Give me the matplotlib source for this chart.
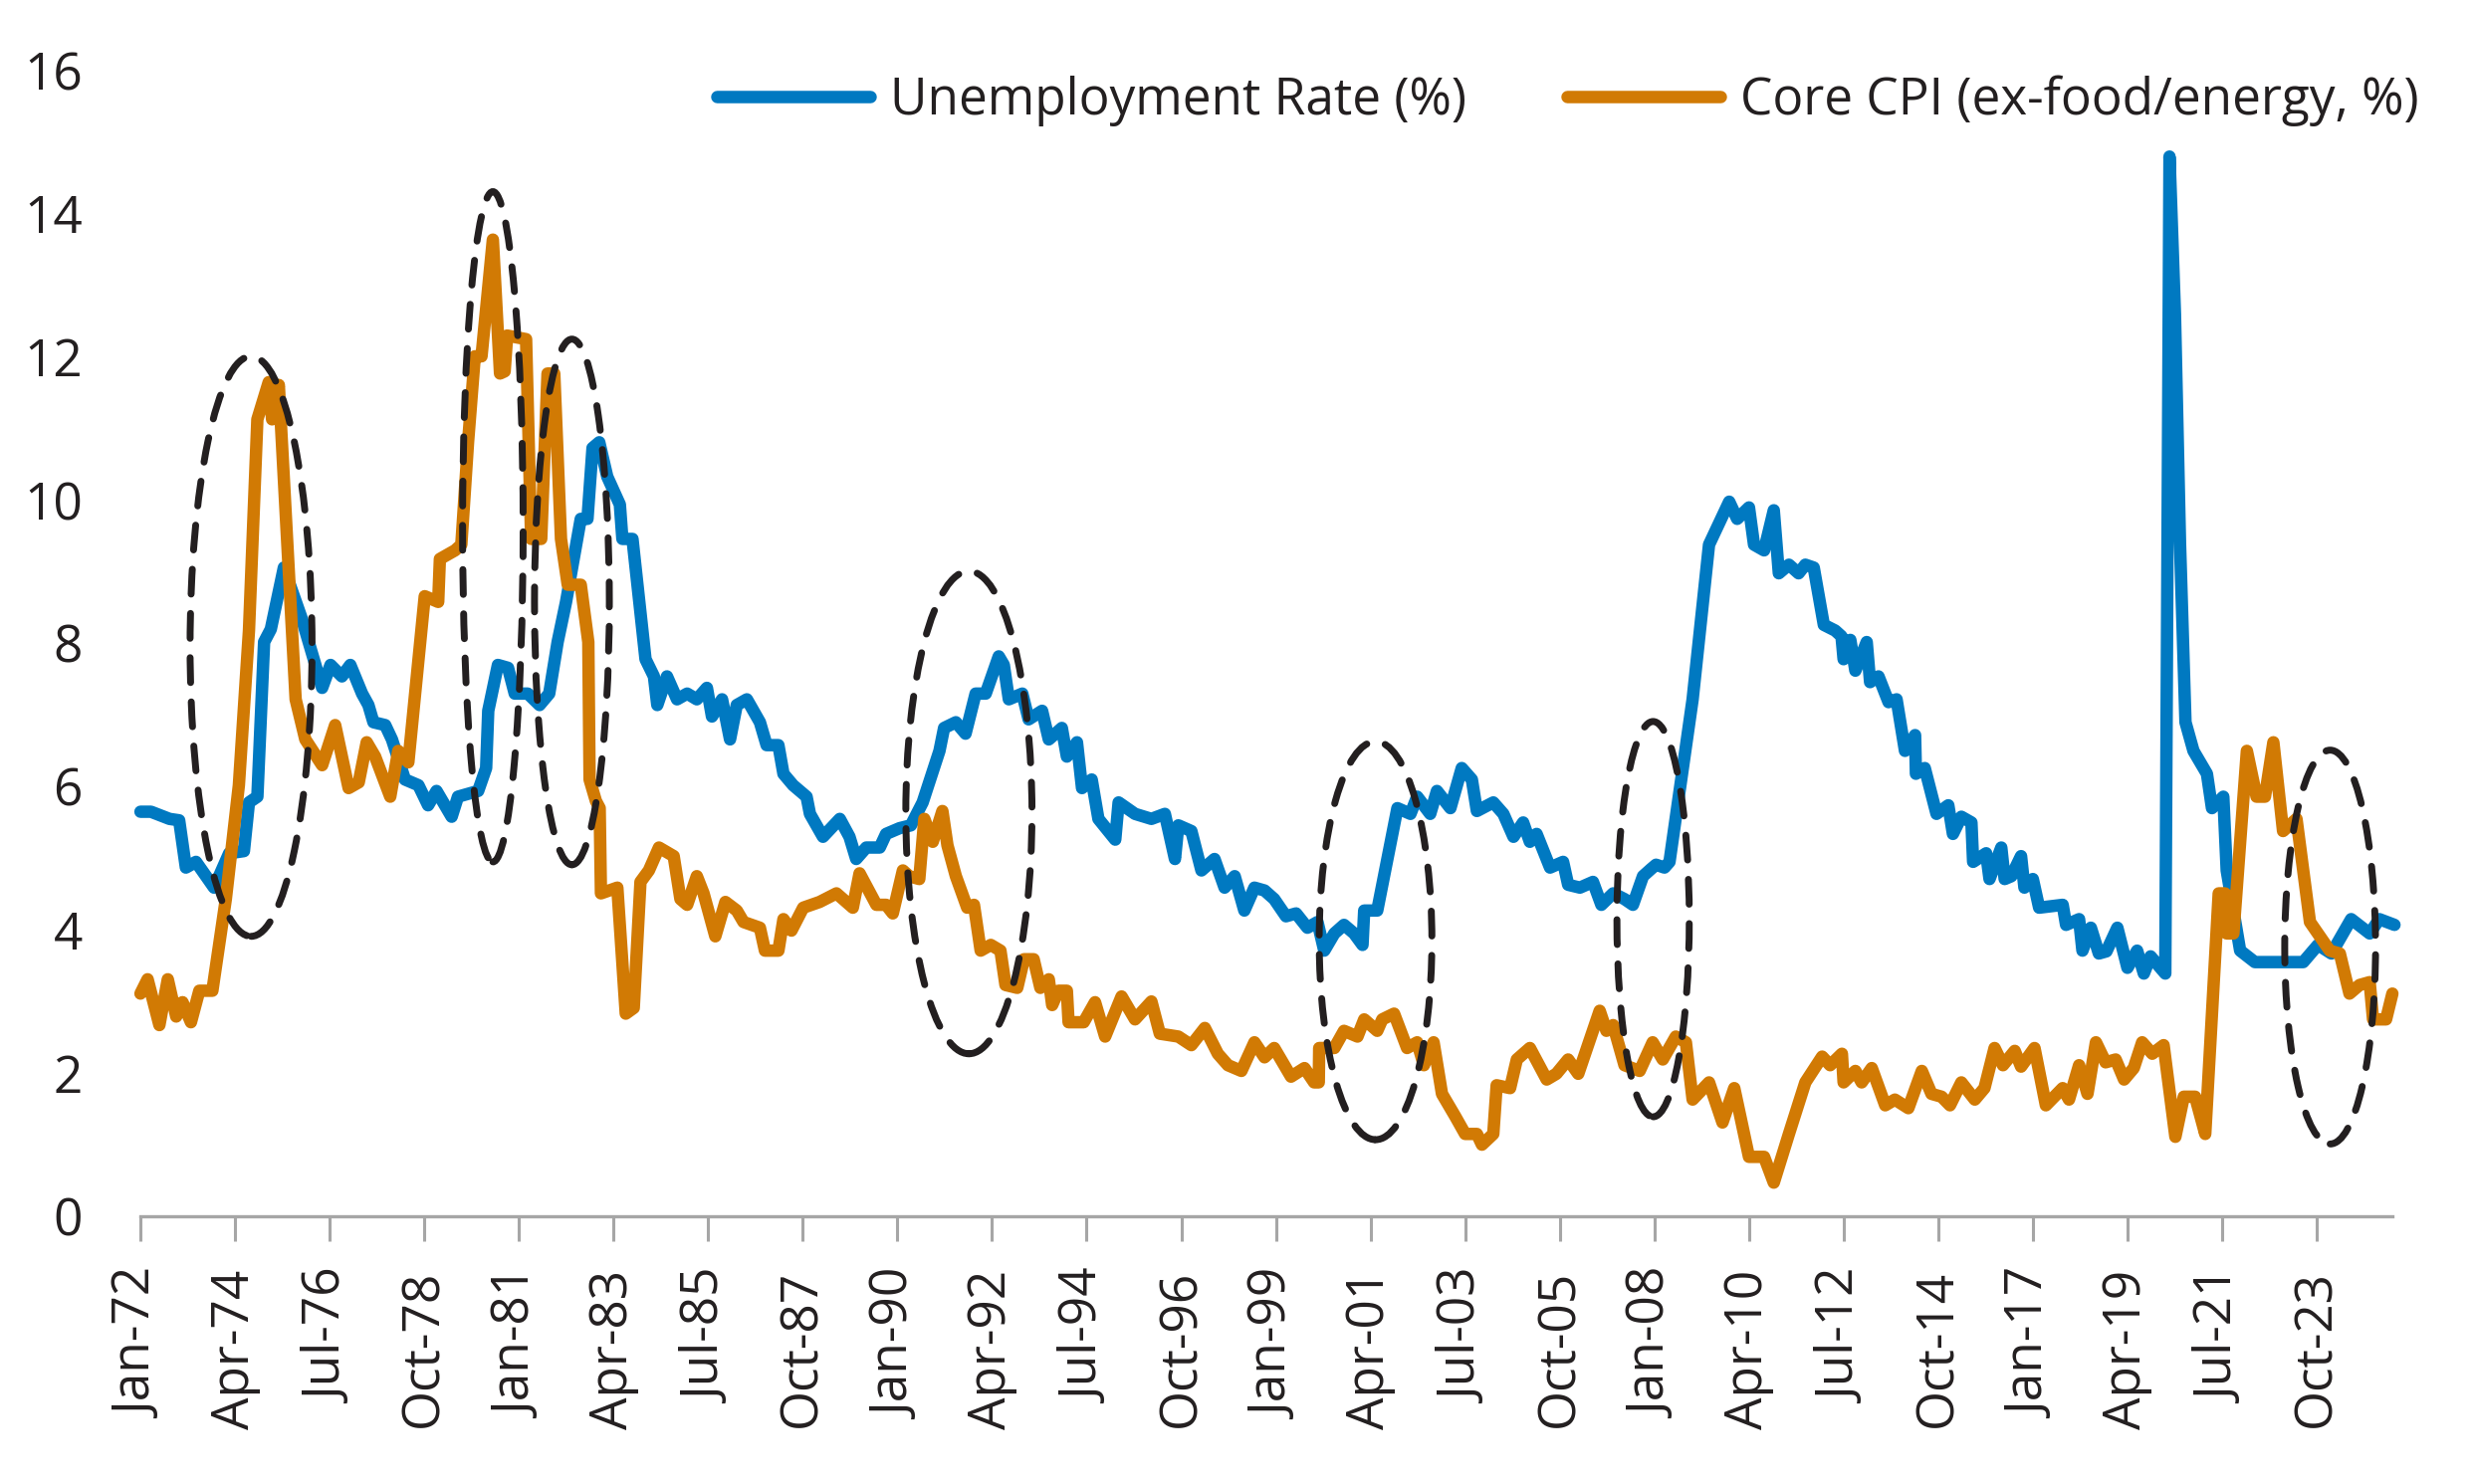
"""
Unemployment rate vs core CPI, 1972-2025, with the inflation episodes circled.
"""
import matplotlib
matplotlib.use("Agg")
import matplotlib.pyplot as plt
from matplotlib.patches import Ellipse

# --------------------------------------------------------------------------- #
# data (decimal year, %)
# --------------------------------------------------------------------------- #
unemp_t = [
    1972.00, 1972.25, 1972.69, 1972.92, 1973.08, 1973.32, 1973.75, 1974.11, 1974.46, 1974.58,
    1974.78, 1974.94, 1975.10, 1975.41, 1975.84, 1976.16, 1976.32, 1976.52, 1976.79, 1976.99,
    1977.27, 1977.42, 1977.54, 1977.82, 1977.98, 1978.29, 1978.61, 1978.84, 1979.04, 1979.40,
    1979.55, 1980.03, 1980.22, 1980.27, 1980.50, 1980.74, 1980.90, 1981.21, 1981.49, 1981.72,
    1981.92, 1982.12, 1982.47, 1982.63, 1982.75, 1982.91, 1983.10, 1983.40, 1983.46, 1983.70,
    1984.01, 1984.21, 1984.29, 1984.52, 1984.76, 1985.00, 1985.23, 1985.47, 1985.59, 1985.83,
    1986.02, 1986.18, 1986.42, 1986.73, 1986.89, 1987.17, 1987.29, 1987.52, 1987.84, 1987.92,
    1988.23, 1988.63, 1988.86, 1989.02, 1989.26, 1989.58, 1989.73, 1990.05, 1990.32, 1990.60,
    1991.00, 1991.11, 1991.39, 1991.62, 1991.86, 1992.10, 1992.41, 1992.53, 1992.65, 1992.97,
    1993.12, 1993.44, 1993.60, 1993.91, 1994.03, 1994.27, 1994.39, 1994.62, 1994.78, 1995.18,
    1995.26, 1995.65, 1996.04, 1996.36, 1996.60, 1996.68, 1996.99, 1997.23, 1997.54, 1997.78,
    1998.02, 1998.25, 1998.49, 1998.73, 1998.96, 1999.24, 1999.48, 1999.75, 1999.99, 2000.15,
    2000.39, 2000.62, 2000.86, 2001.06, 2001.10, 2001.41, 2001.89, 2002.20, 2002.36, 2002.67,
    2002.83, 2003.15, 2003.42, 2003.66, 2003.78, 2004.17, 2004.41, 2004.65, 2004.88, 2005.04,
    2005.20, 2005.52, 2005.83, 2005.95, 2006.23, 2006.54, 2006.74, 2007.02, 2007.29, 2007.49,
    2007.73, 2007.92, 2008.04, 2008.24, 2008.36, 2008.91, 2009.30, 2009.78, 2009.97, 2010.25,
    2010.37, 2010.61, 2010.84, 2010.96, 2011.20, 2011.43, 2011.59, 2011.79, 2012.03, 2012.30,
    2012.45, 2012.50, 2012.66, 2012.78, 2013.05, 2013.13, 2013.33, 2013.57, 2013.76, 2013.96,
    2014.20, 2014.22, 2014.43, 2014.71, 2014.99, 2015.10, 2015.30, 2015.54, 2015.58, 2015.89,
    2015.97, 2016.25, 2016.33, 2016.49, 2016.72, 2016.80, 2017.00, 2017.15, 2017.71, 2017.79,
    2018.10, 2018.18, 2018.38, 2018.57, 2018.75, 2019.01, 2019.25, 2019.48, 2019.64, 2019.80,
    2020.15, 2020.25, 2020.38, 2020.50, 2020.63, 2020.82, 2021.14, 2021.26, 2021.53, 2021.61,
    2021.93, 2022.28, 2023.43, 2023.78, 2024.10, 2024.57, 2025.01, 2025.24, 2025.60,
]
unemp_v = [
    5.65, 5.65, 5.55, 5.53, 4.87, 4.95, 4.59, 5.07, 5.10, 5.78,
    5.86, 8.02, 8.20, 9.06, 8.34, 7.70, 7.38, 7.70, 7.54, 7.70,
    7.30, 7.14, 6.90, 6.86, 6.66, 6.10, 6.02, 5.74, 5.94, 5.58,
    5.86, 5.94, 6.26, 7.06, 7.70, 7.66, 7.30, 7.30, 7.14, 7.30,
    8.02, 8.58, 9.74, 9.74, 10.73, 10.81, 10.33, 9.94, 9.46, 9.46,
    7.78, 7.54, 7.14, 7.54, 7.22, 7.30, 7.22, 7.38, 6.98, 7.22,
    6.66, 7.14, 7.22, 6.90, 6.58, 6.58, 6.18, 6.02, 5.86, 5.62,
    5.30, 5.55, 5.30, 4.99, 5.15, 5.15, 5.34, 5.42, 5.46, 5.78,
    6.50, 6.82, 6.90, 6.74, 7.30, 7.30, 7.82, 7.70, 7.22, 7.30,
    6.94, 7.06, 6.66, 6.82, 6.42, 6.62, 5.98, 6.10, 5.55, 5.26,
    5.78, 5.62, 5.55, 5.62, 4.99, 5.46, 5.38, 4.83, 4.99, 4.59,
    4.75, 4.27, 4.59, 4.55, 4.43, 4.19, 4.23, 4.03, 4.11, 3.71,
    3.95, 4.07, 3.95, 3.79, 4.27, 4.27, 5.70, 5.62, 5.86, 5.62,
    5.94, 5.70, 6.26, 6.10, 5.66, 5.78, 5.62, 5.30, 5.50, 5.23,
    5.34, 4.87, 4.95, 4.63, 4.59, 4.67, 4.35, 4.51, 4.43, 4.35,
    4.75, 4.85, 4.91, 4.87, 4.95, 7.22, 9.38, 9.98, 9.74, 9.90,
    9.38, 9.30, 9.86, 8.98, 9.10, 8.98, 9.10, 9.06, 8.26, 8.18,
    8.10, 7.78, 8.05, 7.62, 8.02, 7.46, 7.54, 7.18, 7.22, 6.50,
    6.72, 6.18, 6.26, 5.62, 5.74, 5.34, 5.58, 5.50, 4.95, 5.07,
    4.71, 5.15, 4.71, 4.75, 5.03, 4.59, 4.71, 4.31, 4.35, 4.07,
    4.15, 3.71, 4.03, 3.67, 3.70, 4.03, 3.47, 3.71, 3.39, 3.63,
    3.39, 14.80, 12.60, 9.40, 6.90, 6.50, 6.18, 5.70, 5.86, 4.83,
    3.71, 3.55, 3.55, 3.79, 3.67, 4.15, 3.95, 4.15, 4.07,
]

cpi_t = [
    1972.00, 1972.17, 1972.45, 1972.65, 1972.85, 1973.00, 1973.20, 1973.40, 1973.71, 1974.03,
    1974.34, 1974.58, 1974.78, 1975.05, 1975.13, 1975.29, 1975.69, 1975.92, 1976.32, 1976.63,
    1976.95, 1977.19, 1977.38, 1977.58, 1977.94, 1978.13, 1978.37, 1978.76, 1979.08, 1979.12,
    1979.48, 1979.63, 1979.79, 1979.95, 1980.11, 1980.38, 1980.55, 1980.66, 1980.72, 1981.17,
    1981.29, 1981.53, 1981.68, 1981.84, 1982.00, 1982.16, 1982.47, 1982.65, 1982.68, 1982.83,
    1982.92, 1982.95, 1983.34, 1983.54, 1983.73, 1983.89, 1984.09, 1984.33, 1984.68, 1984.84,
    1985.00, 1985.23, 1985.39, 1985.67, 1985.91, 1986.18, 1986.34, 1986.73, 1986.85, 1987.17,
    1987.29, 1987.48, 1987.76, 1988.15, 1988.55, 1988.94, 1989.10, 1989.50, 1989.73, 1989.89,
    1990.13, 1990.28, 1990.52, 1990.64, 1990.84, 1991.07, 1991.19, 1991.39, 1991.66, 1991.82,
    1991.98, 1992.22, 1992.45, 1992.57, 1992.85, 1993.01, 1993.24, 1993.40, 1993.60, 1993.68,
    1993.83, 1994.03, 1994.07, 1994.43, 1994.70, 1994.94, 1995.33, 1995.65, 1996.04, 1996.24,
    1996.68, 1996.99, 1997.31, 1997.62, 1997.86, 1998.18, 1998.49, 1998.73, 1998.96, 1999.36,
    1999.68, 1999.91, 2000.02, 2000.03, 2000.39, 2000.62, 2000.94, 2001.10, 2001.41, 2001.53,
    2001.81, 2002.12, 2002.36, 2002.52, 2002.75, 2002.95, 2003.27, 2003.50, 2003.78, 2003.90,
    2004.17, 2004.25, 2004.57, 2004.73, 2005.04, 2005.44, 2005.67, 2005.95, 2006.19, 2006.70,
    2006.86, 2007.02, 2007.29, 2007.65, 2007.96, 2008.20, 2008.51, 2008.75, 2008.91, 2009.30,
    2009.62, 2009.90, 2010.25, 2010.61, 2010.84, 2011.20, 2011.59, 2011.99, 2012.18, 2012.46,
    2012.50, 2012.78, 2012.93, 2013.17, 2013.49, 2013.72, 2014.04, 2014.36, 2014.59, 2014.83,
    2015.03, 2015.30, 2015.62, 2015.85, 2016.09, 2016.29, 2016.57, 2016.72, 2017.04, 2017.31,
    2017.71, 2017.86, 2018.10, 2018.30, 2018.50, 2018.73, 2018.97, 2019.17, 2019.40, 2019.60,
    2019.84, 2020.11, 2020.39, 2020.59, 2020.86, 2021.10, 2021.42, 2021.57, 2021.61, 2021.77,
    2022.09, 2022.32, 2022.52, 2022.72, 2022.95, 2023.27, 2023.59, 2024.06, 2024.30, 2024.53,
    2024.77, 2025.01, 2025.09, 2025.40, 2025.55,
]
cpi_v = [
    3.11, 3.31, 2.67, 3.31, 2.79, 2.99, 2.71, 3.15, 3.15, 4.43,
    6.02, 8.18, 11.13, 11.65, 11.13, 11.61, 7.22, 6.66, 6.30, 6.86,
    5.98, 6.06, 6.62, 6.42, 5.86, 6.50, 6.34, 8.66, 8.58, 9.18,
    9.30, 9.38, 10.81, 12.01, 12.01, 13.64, 11.77, 11.80, 12.30, 12.25,
    9.46, 9.46, 11.77, 11.77, 9.46, 8.82, 8.82, 8.02, 6.10, 5.80,
    5.70, 4.51, 4.59, 2.83, 2.91, 4.67, 4.83, 5.15, 5.03, 4.43,
    4.35, 4.75, 4.51, 3.91, 4.39, 4.27, 4.11, 4.03, 3.71, 3.71,
    4.15, 3.99, 4.31, 4.39, 4.51, 4.31, 4.79, 4.35, 4.35, 4.23,
    4.83, 4.75, 4.71, 5.55, 5.23, 5.66, 5.18, 4.75, 4.31, 4.35,
    3.71, 3.79, 3.71, 3.23, 3.19, 3.59, 3.59, 3.19, 3.31, 2.95,
    3.15, 3.15, 2.71, 2.71, 2.99, 2.51, 3.07, 2.75, 3.00, 2.55,
    2.51, 2.39, 2.63, 2.27, 2.11, 2.03, 2.43, 2.22, 2.35, 1.95,
    2.07, 1.87, 1.87, 2.35, 2.35, 2.59, 2.51, 2.75, 2.59, 2.75,
    2.83, 2.35, 2.43, 2.11, 2.43, 1.71, 1.39, 1.15, 1.15, 1.00,
    1.15, 1.83, 1.79, 2.19, 2.35, 1.91, 1.99, 2.19, 1.99, 2.87,
    2.59, 2.67, 2.11, 2.03, 2.43, 2.19, 2.51, 2.43, 1.63, 1.87,
    1.31, 1.79, 0.83, 0.83, 0.47, 1.15, 1.87, 2.23, 2.11, 2.27,
    1.87, 2.03, 1.87, 2.07, 1.55, 1.63, 1.51, 2.03, 1.71, 1.67,
    1.55, 1.87, 1.63, 1.79, 2.35, 2.11, 2.31, 2.09, 2.35, 1.55,
    1.79, 1.63, 2.11, 1.71, 2.43, 2.15, 2.19, 1.91, 2.07, 2.43,
    2.27, 2.39, 1.11, 1.67, 1.67, 1.15, 4.51, 4.51, 3.95, 3.95,
    6.50, 5.86, 5.86, 6.62, 5.38, 5.55, 4.11, 3.71, 3.67, 3.11,
    3.23, 3.27, 2.75, 2.75, 3.11,
]

# ticks every 27 months from Jan-72
tick_labels = [
    "Jan-72", "Apr-74", "Jul-76", "Oct-78", "Jan-81", "Apr-83", "Jul-85", "Oct-87",
    "Jan-90", "Apr-92", "Jul-94", "Oct-96", "Jan-99", "Apr-01", "Jul-03", "Oct-05",
    "Jan-08", "Apr-10", "Jul-12", "Oct-14", "Jan-17", "Apr-19", "Jul-21", "Oct-23",
]
tick_pos = [1972 + 2.25 * i for i in range(len(tick_labels))]

# circled episodes: (centre year, centre %, width in years, height in %)
highlight_ovals = [
    (1974.63, 7.96, 2.90, 8.10),
    (1980.38, 9.63, 1.44, 9.36),
    (1982.26, 8.58, 1.78, 7.34),
    (1991.70, 5.64, 3.00, 6.74),
    (2001.37, 3.85, 2.68, 5.56),
    (2007.97, 4.15, 1.72, 5.52),
    (2024.07, 3.76, 2.16, 5.50),
]

BLUE = "#0079C1"
ORANGE = "#D17A04"
INK = "#231F20"
AXIS_GREY = "#A6A6A6"

plt.rcParams["font.family"] = ["Open Sans", "DejaVu Sans"]

# --------------------------------------------------------------------------- #
# plot
# --------------------------------------------------------------------------- #
fig = plt.figure(figsize=(24.84, 14.91), dpi=100)
ax = fig.add_axes([0.0568, 0.1804, 0.9106, 0.7720])

line_kw = dict(lw=9.0, solid_capstyle="round", solid_joinstyle="round", clip_on=False)
ax.plot(unemp_t, unemp_v, color=BLUE, label="Unemployment Rate (%)", zorder=3, **line_kw)
ax.plot(cpi_t, cpi_v, color=ORANGE, label="Core CPI (ex-food/energy, %)", zorder=4, **line_kw)

for cx, cy, w, h in highlight_ovals:
    ax.add_patch(Ellipse((cx, cy), w, h, fill=False, edgecolor=INK, lw=5.0,
                         linestyle=(0, (3.6, 2.8)), capstyle="round", zorder=5))

ax.set_xlim(1972.0, 2025.55)
ax.set_ylim(0, 16)
ax.set_yticks(range(0, 17, 2))
ax.set_xticks(tick_pos)
ax.set_xticklabels(tick_labels, rotation=90)

for side in ("left", "top", "right"):
    ax.spines[side].set_visible(False)
ax.spines["bottom"].set_color(AXIS_GREY)
ax.spines["bottom"].set_linewidth(2.4)

ax.tick_params(axis="y", length=0, pad=42, labelsize=37, labelcolor=INK)
ax.tick_params(axis="x", length=18, width=2.2, color=AXIS_GREY, pad=21,
               labelsize=37, labelcolor=INK)

leg = ax.legend(loc="center right", bbox_to_anchor=(2430 / 2484, 1 - 101 / 1491),
                bbox_transform=fig.transFigure, ncol=2, frameon=False, fontsize=37,
                handlelength=3.0, handletextpad=0.4, columnspacing=1.95, borderpad=0,
                borderaxespad=0)
for txt in leg.get_texts():
    txt.set_color(INK)

fig.savefig("out.png", dpi=100)
